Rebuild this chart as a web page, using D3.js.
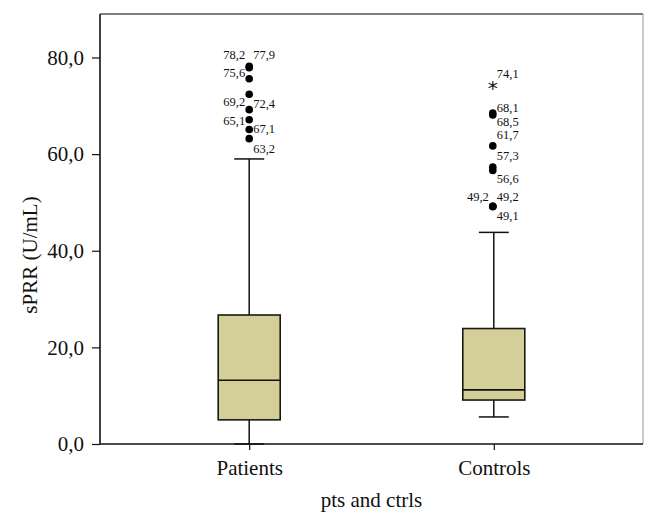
<!DOCTYPE html>
<html><head><meta charset="utf-8">
<script src="https://cdn.jsdelivr.net/npm/d3@7/dist/d3.min.js"></script>
<style>
html,body{margin:0;padding:0;background:#fff;}
text{font-family:"Liberation Serif","DejaVu Serif",serif;fill:#111;}
</style></head>
<body>
<svg id="chart" width="658" height="527"></svg>
<script>
// ---- data ----
const categories = ["Patients", "Controls"];
const whiskerLow  = [0.0, 5.6];
const q1          = [5.0, 9.1];
const median      = [13.2, 11.2];
const q3          = [26.7, 23.9];
const whiskerHigh = [59.0, 43.8];
const outliersPatients = [78.2, 77.9, 75.6, 72.4, 69.2, 67.1, 65.1, 63.2];
const outliersControls = [68.1, 68.5, 61.7, 57.3, 56.6, 49.2, 49.2, 49.1];
const extremesControls = [74.1];
const yTicks = [0, 20, 40, 60, 80];
const xTitle = "pts and ctrls";
const yTitle = "sPRR (U/mL)";

// ---- label layout (side, vertical offset px) ----
const layoutPatients = [["L",-12],["R",-13],["L",-6],["R",9],["L",-8],["R",9],["L",-9],["R",10]];
const layoutControls = [["R",-7.5],["R",8.5],["R",-11],["R",-12],["R",8],["L",-10],["R",-10],["R",9]];
const layoutExtremes = [["R",-12]];

const svg = d3.select("#chart");
const pLeft = 100, pRight = 643, pTop = 14, pBottom = 444;
const y = d3.scaleLinear().domain([0, 89]).range([pBottom, pTop]);
const x = d3.scalePoint().domain(categories).range([pLeft, pRight]).padding(0.61);
const fmt = v => d3.format(".1f")(v).replace(".", ",");

// frame top/right
svg.append("line").attr("x1", pLeft).attr("x2", pRight).attr("y1", pTop).attr("y2", pTop)
  .attr("stroke", "#555").attr("stroke-width", 1.6);
svg.append("line").attr("x1", pRight).attr("x2", pRight).attr("y1", pTop).attr("y2", pBottom)
  .attr("stroke", "#999").attr("stroke-width", 1);

// y axis
const ya = svg.append("g").attr("transform", `translate(${pLeft},0)`)
  .call(d3.axisLeft(y).tickValues(yTicks).tickFormat(fmt).tickSizeOuter(0).tickSize(8).tickPadding(8));
ya.select(".domain").attr("stroke", "#111").attr("stroke-width", 1.6).attr("d", `M0,${pTop}V${pBottom}`);
ya.selectAll(".tick line").attr("stroke", "#111").attr("stroke-width", 1.2);
ya.selectAll("text").style("font-size", "21px").style("font-family", "Liberation Serif").attr("fill", "#111");

// x axis
const xa = svg.append("g").attr("transform", `translate(0,${pBottom})`)
  .call(d3.axisBottom(x).tickSizeOuter(0).tickSize(6).tickPadding(10));
xa.select(".domain").attr("stroke", "#111").attr("stroke-width", 1.6).attr("d", `M${pLeft},0H${pRight}`);
xa.selectAll(".tick line").attr("stroke", "#111").attr("stroke-width", 1.2);
xa.selectAll("text").style("font-size", "21px").style("font-family", "Liberation Serif").attr("fill", "#111");

// titles
svg.append("text").attr("x", (pLeft + pRight) / 2).attr("y", 507).attr("text-anchor", "middle")
  .style("font-size", "21px").text(xTitle);
svg.append("text").attr("transform", `translate(37,${(pTop + pBottom) / 2 + 26}) rotate(-90)`)
  .attr("text-anchor", "middle").style("font-size", "21px").text(yTitle);

// boxes
const boxW = 62, capW = 30;
categories.forEach((c, i) => {
  const cx = x(c);
  const g = svg.append("g");
  g.append("line").attr("x1", cx).attr("x2", cx).attr("y1", y(q3[i])).attr("y2", y(whiskerHigh[i]))
    .attr("stroke", "#111").attr("stroke-width", 1.5);
  g.append("line").attr("x1", cx).attr("x2", cx).attr("y1", y(q1[i])).attr("y2", y(whiskerLow[i]))
    .attr("stroke", "#111").attr("stroke-width", 1.5);
  g.append("line").attr("x1", cx - capW / 2).attr("x2", cx + capW / 2).attr("y1", y(whiskerHigh[i])).attr("y2", y(whiskerHigh[i]))
    .attr("stroke", "#111").attr("stroke-width", 1.5);
  g.append("line").attr("x1", cx - capW / 2).attr("x2", cx + capW / 2).attr("y1", y(whiskerLow[i])).attr("y2", y(whiskerLow[i]))
    .attr("stroke", "#111").attr("stroke-width", 1.5);
  g.append("rect").attr("x", cx - boxW / 2).attr("width", boxW)
    .attr("y", y(q3[i])).attr("height", y(q1[i]) - y(q3[i]))
    .attr("fill", "#d4ce99").attr("stroke", "#1a1a10").attr("stroke-width", 1.6);
  g.append("line").attr("x1", cx - boxW / 2).attr("x2", cx + boxW / 2).attr("y1", y(median[i])).attr("y2", y(median[i]))
    .attr("stroke", "#111").attr("stroke-width", 1.6);
});

// outliers
function drawOutliers(cat, vals, layout, symbol) {
  const cx = x(cat) - (cat === "Controls" ? 1 : 0);
  vals.forEach((v, j) => {
    if (symbol === "dot") {
      svg.append("circle").attr("cx", cx).attr("cy", y(v)).attr("r", 3.8).attr("fill", "#000");
    } else {
      svg.append("text").attr("x", cx).attr("y", y(v) + 9).attr("text-anchor", "middle")
        .style("font-size", "20px").style("font-family", "DejaVu Sans").text("*");
    }
    const [side, dy] = layout[j];
    svg.append("text")
      .attr("x", side === "L" ? cx - 4 : cx + 4)
      .attr("y", y(v) + dy)
      .attr("dy", "0.35em")
      .attr("text-anchor", side === "L" ? "end" : "start")
      .style("font-size", "12.5px").text(fmt(v));
  });
}
drawOutliers("Patients", outliersPatients, layoutPatients, "dot");
drawOutliers("Controls", outliersControls, layoutControls, "dot");
drawOutliers("Controls", extremesControls, layoutExtremes, "star");
</script>
</body></html>
